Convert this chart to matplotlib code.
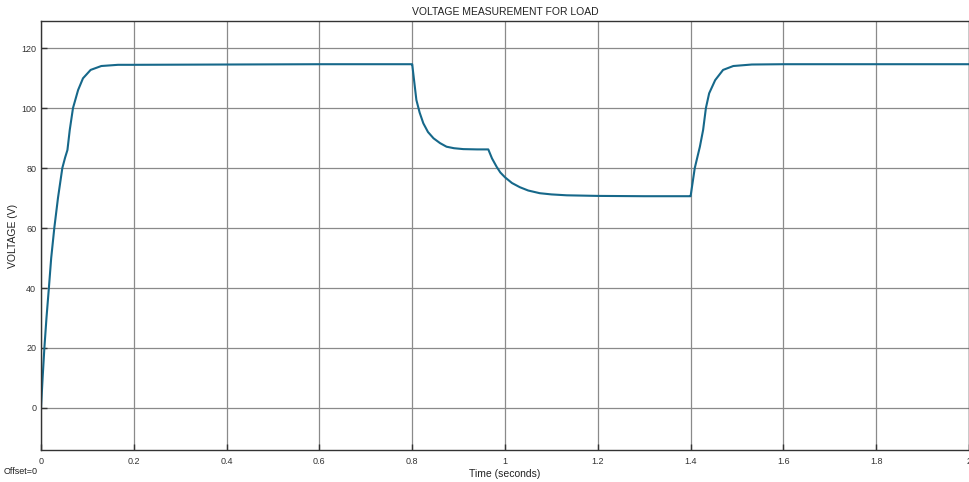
#!/usr/bin/env python3
"""Scope-style plot of the load voltage measurement."""

import matplotlib.pyplot as plt

plt.rcParams["font.family"] = ["Liberation Sans", "DejaVu Sans"]

# time (s) and voltage (V)
time_s = [
    0, 0.0035, 0.0073, 0.0118, 0.017, 0.022, 0.0287, 0.0366, 0.046, 0.052,
    0.057, 0.062, 0.069, 0.080, 0.0905, 0.107, 0.130, 0.166, 0.2, 0.4,
    0.6, 0.799,
    0.8, 0.809, 0.816, 0.824, 0.834, 0.846, 0.86, 0.874, 0.89, 0.91,
    0.94, 0.964, 0.972, 0.982, 0.99, 1.0, 1.015, 1.032, 1.05, 1.075,
    1.1, 1.133, 1.2, 1.3, 1.399,
    1.4, 1.409, 1.42, 1.427, 1.433, 1.440, 1.453, 1.470, 1.492, 1.532,
    1.6, 1.8, 2.0,
]
voltage = [
    0, 10, 20, 30, 40, 50, 60, 70, 80, 83.5,
    86, 92.7, 100, 106, 109.9, 112.7, 114.0, 114.4, 114.4, 114.5,
    114.6, 114.6,
    114.6, 102.7, 98.5, 94.9, 92.0, 89.9, 88.3, 87.1, 86.6, 86.3,
    86.2, 86.2, 83.2, 80.4, 78.5, 76.9, 75.0, 73.6, 72.5, 71.6,
    71.2, 70.9, 70.7, 70.6, 70.6,
    70.6, 80.0, 87.1, 92.7, 100.0, 104.9, 109.3, 112.7, 114.0, 114.5,
    114.6, 114.6, 114.6,
]

x_ticks = [0, 0.2, 0.4, 0.6, 0.8, 1, 1.2, 1.4, 1.6, 1.8, 2]
x_labels = ["0", "0.2", "0.4", "0.6", "0.8", "1", "1.2", "1.4", "1.6", "1.8", "2"]
y_ticks = [0, 20, 40, 60, 80, 100, 120]


def main():
    fig = plt.figure(figsize=(9.69, 4.82), dpi=100)
    ax = fig.add_axes([0.0423, 0.0664, 0.9577, 0.890])

    ax.plot(time_s, voltage, color="#16688a", linewidth=1.5)

    ax.set_xlim(0, 2)
    ax.set_ylim(-14, 129)
    ax.set_xticks(x_ticks)
    ax.set_xticklabels(x_labels)
    ax.set_yticks(y_ticks)
    ax.grid(True, color="#8a8a8a", linewidth=0.9)
    ax.tick_params(direction="in", length=4, width=1, labelsize=6.5, colors="#333333")
    ax.tick_params(axis="x", pad=5)
    for spine in ax.spines.values():
        spine.set_color("#333333")
        spine.set_linewidth(1.0)

    ax.set_title("VOLTAGE MEASUREMENT FOR LOAD", fontsize=7.5, color="#222222", pad=4)
    ax.set_xlabel("Time (seconds)", fontsize=7.5, color="#222222", labelpad=2)
    ax.set_ylabel("VOLTAGE (V)", fontsize=7.5, color="#222222", labelpad=2)
    fig.text(0.004, 0.012, "Offset=0", fontsize=6.5, color="#222222", ha="left", va="bottom")

    fig.savefig("out.png", dpi=100)
    plt.close(fig)


if __name__ == "__main__":
    main()
